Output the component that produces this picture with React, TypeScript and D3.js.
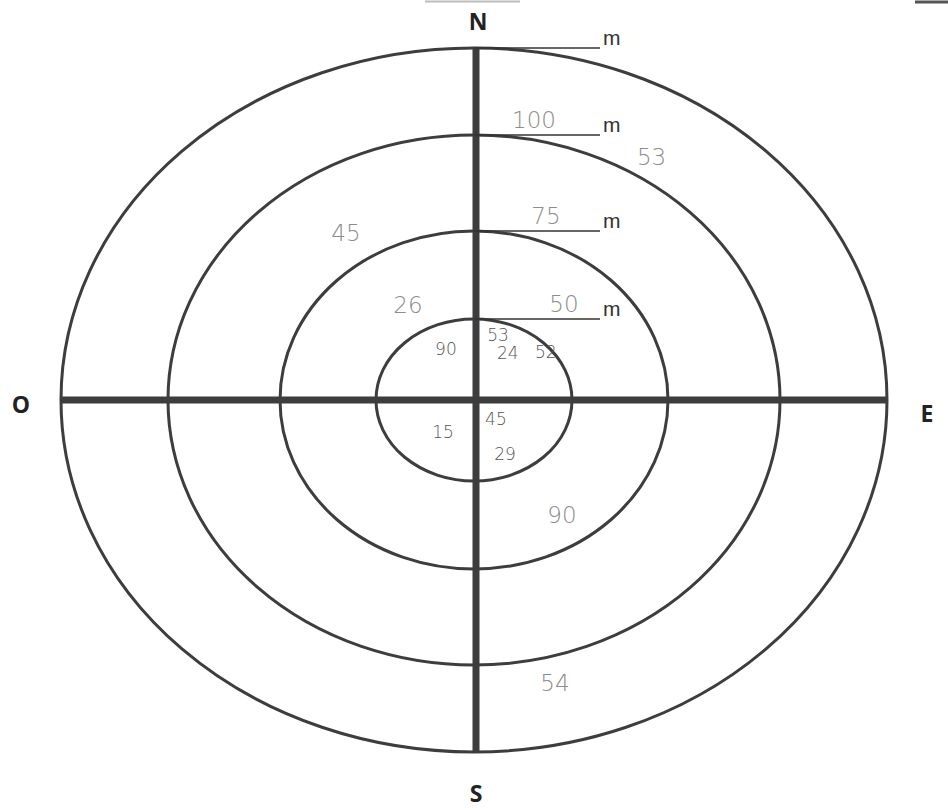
import React from "react";
import * as d3 from "d3";

// rings from the centre outwards, with the distance written on the leader line
const ringIndex = [1, 2, 3, 4];
const ringLabels = ["50", "75", "100", ""];
const compass = ["N", "E", "S", "O"];

// handwritten counts, placed in normalised field coords (-1..1, up is +)
const noteText = ["53", "45", "26", "53", "90", "24", "52", "15", "45", "29", "90", "54"];
const noteU = [0.43, -0.31, -0.16, 0.058, -0.068, 0.082, 0.174, -0.075, 0.053, 0.075, 0.213, 0.196];
const noteV = [0.69, 0.475, 0.27, 0.184, 0.146, 0.134, 0.136, -0.09, -0.055, -0.152, -0.327, -0.803];
const noteBig = [1, 1, 1, 0, 0, 0, 0, 0, 0, 0, 1, 1];

const W = 948;
const H = 811;
const cx = 474;
const cy = 400;
const RX = 413;
const RY = 352;

export default function App() {
  const x = d3.scaleLinear().domain([-1, 1]).range([cx - RX, cx + RX]);
  const y = d3.scaleLinear().domain([-1, 1]).range([cy + RY, cy - RY]);
  // rings are not evenly spaced on the sheet
  const rx = d3.scaleLinear().domain([0, 1, 2, 3, 4]).range([0, 98, 194, 306, RX]);
  const ry = d3.scaleLinear().domain([0, 1, 2, 3, 4]).range([0, 81, 169, 265, RY]);

  const ink = "#3d3d3d";
  const pencil = "#8c8c8c";
  const labelShift = [0, -18, -30, 0];

  return (
    <svg
      width={W}
      height={H}
      style={{ position: "absolute", left: 0, top: 0, background: "#fff" }}
    >
      {/* bits of the page border at the top */}
      <line x1={425} x2={520} y1={1.5} y2={1.5} stroke="#bbb" strokeWidth={2} />
      <line x1={915} x2={948} y1={2} y2={2} stroke="#555" strokeWidth={3} />

      {ringIndex.map((r) => (
        <ellipse
          key={r}
          cx={x(0)}
          cy={y(0)}
          rx={rx(r)}
          ry={ry(r)}
          fill="none"
          stroke={ink}
          strokeWidth={3}
        />
      ))}

      <line x1={x(-1)} x2={x(1)} y1={y(0)} y2={y(0)} stroke={ink} strokeWidth={7} />
      <line x1={x(0) + 2} x2={x(0) + 2} y1={y(1)} y2={y(-1)} stroke={ink} strokeWidth={7} />

      {ringIndex.map((r, i) => {
        const ly = y(0) - ry(r);
        return (
          <g key={"l" + r}>
            <line x1={x(0)} x2={x(0) + 126} y1={ly} y2={ly} stroke="#333" strokeWidth={1.6} />
            <text
              x={x(0) + 129}
              y={ly - 3}
              fontFamily="Liberation Sans, Arial, sans-serif"
              fontSize={21}
              fill="#333"
            >
              m
            </text>
            {ringLabels[i] && (
              <text
                x={x(0) + 90 + labelShift[i]}
                y={ly - 7}
                textAnchor="middle"
                fontFamily="DejaVu Sans, sans-serif"
                fontSize={23}
                fontWeight={200}
                fill={pencil}
              >
                {ringLabels[i]}
              </text>
            )}
          </g>
        );
      })}

      {noteText.map((t, i) => (
        <text
          key={"n" + i}
          x={x(noteU[i])}
          y={y(noteV[i])}
          dy="0.36em"
          textAnchor="middle"
          fontFamily="DejaVu Sans, sans-serif"
          fontSize={noteBig[i] ? 23 : 17}
          fontWeight={200}
          fill={noteBig[i] ? pencil : "#555"}
        >
          {t}
        </text>
      ))}

      <g
        fontFamily="Open Sans, Liberation Sans, sans-serif"
        fontWeight={700}
        fontSize={23}
        fill="#222"
        textAnchor="middle"
      >
        <text x={x(0) + 4} y={y(1) - 18}>{compass[0]}</text>
        <text x={x(1) + 40} y={y(0) + 22}>{compass[1]}</text>
        <text x={x(0) + 2} y={y(-1) + 50}>{compass[2]}</text>
        <text x={x(-1) - 40} y={y(0) + 13}>{compass[3]}</text>
      </g>
    </svg>
  );
}
